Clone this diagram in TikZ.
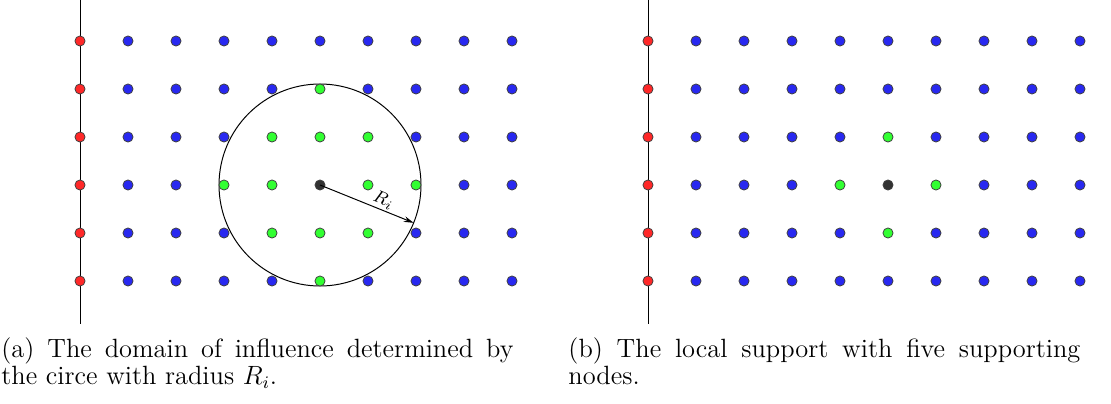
\documentclass[tikz,border=0pt]{standalone}
\usetikzlibrary{arrows.meta,calc}
\definecolor{dotred}{RGB}{255,40,40}
\definecolor{dotblue}{RGB}{40,40,240}
\definecolor{dotgreen}{RGB}{50,255,50}
\definecolor{dotblack}{RGB}{50,50,50}
\begin{document}
\begin{tikzpicture}[x=0.4545pt,y=-0.4545pt,
  dot/.style={circle,draw=black!75,line width=0.35pt,inner sep=0pt,minimum size=4.6pt},
  reddot/.style={dot,fill=dotred},
  bluedot/.style={dot,fill=dotblue},
  greendot/.style={dot,fill=dotgreen},
  blackdot/.style={dot,fill=dotblack},
  axis/.style={line width=0.45pt},
  caption/.style={anchor=north west,inner sep=0pt,text width=232.7pt,align=justify,font=\fontsize{12}{12.2}\selectfont}]
\useasboundingbox (0,0) rectangle (1111,403);
% ---------------- panel (a) ----------------
\coordinate (atop) at (80,0);
\coordinate (abot) at (80,324);
\draw[axis] (atop) -- (abot);
\coordinate (ac) at (320,185);
\draw[line width=0.45pt] (ac) circle[radius=45.9pt];
\foreach \i in {0,...,9}{
  \foreach \j in {0,...,5}{
    \pgfmathtruncatemacro{\dd}{(\i-5)*(\i-5)+(\j-3)*(\j-3)}
    \ifnum\i=0
      \node[reddot] (a-\i-\j) at (80+48*\i,41+48*\j) {};
    \else\ifnum\dd=0
      \node[blackdot] (a-\i-\j) at (80+48*\i,41+48*\j) {};
    \else\ifnum\dd<5
      \node[greendot] (a-\i-\j) at (80+48*\i,41+48*\j) {};
    \else
      \node[bluedot] (a-\i-\j) at (80+48*\i,41+48*\j) {};
    \fi\fi\fi
  }
}
\coordinate (aend) at ($(ac)+(-22:45.9pt)$);
\draw[-{Stealth[length=4.5pt,width=2.6pt]},line width=0.45pt] (a-5-3.center) -- (aend)
  node[sloped,above,pos=0.64,inner sep=1pt,font=\fontsize{8.5}{10}\selectfont] {$R_i$};
\node[caption] (capa) at (1,337) {(a) The domain of influence determined by\linebreak the circe with radius $R_i$.};
% ---------------- panel (b) ----------------
\coordinate (btop) at (648,0);
\coordinate (bbot) at (648,324);
\draw[axis] (btop) -- (bbot);
\foreach \i in {0,...,9}{
  \foreach \j in {0,...,5}{
    \pgfmathtruncatemacro{\dd}{(\i-5)*(\i-5)+(\j-3)*(\j-3)}
    \ifnum\i=0
      \node[reddot] (b-\i-\j) at (648+48*\i,41+48*\j) {};
    \else\ifnum\dd=0
      \node[blackdot] (b-\i-\j) at (648+48*\i,41+48*\j) {};
    \else\ifnum\dd=1
      \node[greendot] (b-\i-\j) at (648+48*\i,41+48*\j) {};
    \else
      \node[bluedot] (b-\i-\j) at (648+48*\i,41+48*\j) {};
    \fi\fi\fi
  }
}
\node[caption] (capb) at (568,337) {(b) The local support with five supporting nodes.};
\end{tikzpicture}
\end{document}
